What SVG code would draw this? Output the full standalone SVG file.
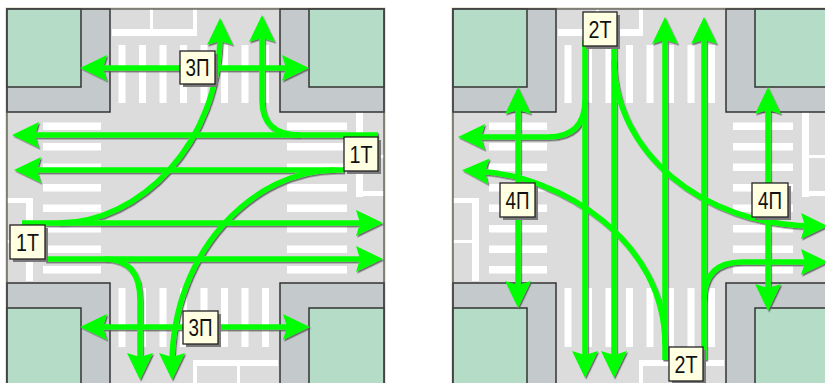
<svg xmlns="http://www.w3.org/2000/svg" xmlns:xlink="http://www.w3.org/1999/xlink" width="825" height="383" viewBox="0 0 825 383">
<style>
.road{fill:#dcdcdc}
.walk{fill:#c4cacb;stroke:#333;stroke-width:1.5}
.park{fill:#b4dcc6;stroke:#333;stroke-width:1.5}
.mk{fill:#fff}
.fr{fill:none;stroke:#4a4a4a;stroke-width:1.2}
.frb{fill:none;stroke:#d6cfb6;stroke-width:3}
.cn{fill:none;stroke:#00ff00;stroke-width:5.5;marker-end:url(#ah)}
.dbl{marker-start:url(#ah)}
.lb .s{fill:#7a7a7a}
.lb .b{fill:#ffffe1;stroke:#222;stroke-width:1.3}
.lb text{font-family:"Liberation Sans",Arial,sans-serif;font-size:24px;fill:#111;text-anchor:middle}
</style>
<defs>
<marker id="ah" markerUnits="userSpaceOnUse" markerWidth="40" markerHeight="40" viewBox="-20 -20 40 40" refX="0" refY="0" orient="auto-start-reverse" overflow="visible">
<path d="M15,0 L-12,-13 L-8,0 L-12,13 Z" fill="#00ff00"/>
</marker>
<filter id="sh" x="-5%" y="-5%" width="110%" height="110%">
<feDropShadow dx="1.2" dy="1.5" stdDeviation="0.4" flood-color="#555" flood-opacity="0.85"/>
</filter>
<g id="panel">
<rect class="frb" x="7" y="9" width="377" height="390"/>
<rect class="road" x="7" y="9" width="377" height="390"/>
<g class="mk">
<rect x="118.5" y="45" width="7" height="58"/><rect x="139" y="45" width="7" height="58"/><rect x="159.5" y="45" width="7" height="58"/><rect x="180" y="45" width="7" height="58"/><rect x="200.5" y="45" width="7" height="58"/><rect x="221" y="45" width="7" height="58"/><rect x="241.5" y="45" width="7" height="58"/><rect x="262" y="45" width="7" height="58"/>
<rect x="118.5" y="288" width="7" height="59"/><rect x="139" y="288" width="7" height="59"/><rect x="159.5" y="288" width="7" height="59"/><rect x="180" y="288" width="7" height="59"/><rect x="200.5" y="288" width="7" height="59"/><rect x="221" y="288" width="7" height="59"/><rect x="241.5" y="288" width="7" height="59"/><rect x="262" y="288" width="7" height="59"/>
<rect x="43" y="122.5" width="58" height="7.5"/><rect x="43" y="143" width="58" height="7.5"/><rect x="43" y="163.5" width="58" height="7.5"/><rect x="43" y="184" width="58" height="7.5"/><rect x="43" y="204.5" width="58" height="7.5"/><rect x="43" y="225" width="58" height="7.5"/><rect x="43" y="245.5" width="58" height="7.5"/><rect x="43" y="266" width="58" height="7.5"/>
<rect x="287" y="122.5" width="60" height="7.5"/><rect x="287" y="143" width="60" height="7.5"/><rect x="287" y="163.5" width="60" height="7.5"/><rect x="287" y="184" width="60" height="7.5"/><rect x="287" y="204.5" width="60" height="7.5"/><rect x="287" y="225" width="60" height="7.5"/><rect x="287" y="245.5" width="60" height="7.5"/><rect x="287" y="266" width="60" height="7.5"/>
<rect x="112" y="29" width="85" height="7"/><rect x="150" y="9" width="3" height="20"/><rect x="193" y="9" width="4" height="20"/>
<rect x="193" y="360" width="85" height="6"/><rect x="193" y="366" width="4" height="30"/><rect x="237" y="366" width="3" height="30"/>
<rect x="7" y="198" width="26" height="5"/><rect x="26" y="198" width="7" height="83"/><rect x="7" y="240" width="19" height="3"/>
<rect x="356" y="112" width="7" height="85"/><rect x="356" y="191" width="28" height="5"/><rect x="363" y="155" width="21" height="3"/>
</g>
<rect class="walk" x="7" y="9" width="103" height="103"/>
<rect class="park" x="7" y="9" width="74" height="78"/>
<rect class="walk" x="280" y="9" width="104" height="103"/>
<rect class="park" x="309" y="9" width="75" height="78"/>
<rect class="walk" x="7" y="283" width="103" height="110"/>
<rect class="park" x="7" y="308" width="74" height="85"/>
<rect class="walk" x="280" y="283" width="104" height="110"/>
<rect class="park" x="309" y="308" width="75" height="85"/>
<rect class="fr" x="7" y="9" width="377" height="390"/>
</g>
</defs>
<rect width="825" height="383" fill="#fff"/>
<use href="#panel" xlink:href="#panel"/>
<use href="#panel" xlink:href="#panel" x="446"/>
<g id="connectors" filter="url(#sh)">
<path class="cn" d="M378,135 H27"/>
<path class="cn" d="M344,170 H29"/>
<path class="cn" d="M300,135 Q262,135 262,100 V30"/>
<path class="cn" d="M335,170 C255,170 172,250 172,365"/>
<path class="cn" d="M22,223 H368"/>
<path class="cn" d="M45,259 H368"/>
<path class="cn" d="M105,259 Q140,259 140,300 V365"/>
<path class="cn" d="M59,223 C139,223 220,144 220,33"/>
<path class="cn dbl" d="M95,68 H294"/>
<path class="cn dbl" d="M95,327 H295"/>
<path class="cn" d="M585,40 V363"/>
<path class="cn" d="M614,40 V363"/>
<path class="cn" d="M585,100 Q585,137 548,137 H473"/>
<path class="cn" d="M614,60 C614,150 700,225 813,226"/>
<path class="cn" d="M665,345 C665,240 560,175 477,171"/>
<path class="cn" d="M665,360 V32"/>
<path class="cn" d="M704,360 V32"/>
<path class="cn" d="M704,300 Q704,262 742,262 H813"/>
<path class="cn dbl" d="M518,102 V293"/>
<path class="cn dbl" d="M768,102 V296"/>
</g>
<g id="lbl-3p-top" class="lb"><rect class="s" x="183" y="54" width="35" height="33"/><rect class="b" x="180" y="51" width="35" height="33"/><text x="197.5" y="76" textLength="24" lengthAdjust="spacingAndGlyphs">3П</text></g>
<g id="lbl-3p-bottom" class="lb"><rect class="s" x="186" y="314" width="35" height="33"/><rect class="b" x="183" y="311" width="35" height="33"/><text x="200.5" y="336" textLength="24" lengthAdjust="spacingAndGlyphs">3П</text></g>
<g id="lbl-1t-left" class="lb"><rect class="s" x="13" y="228" width="35" height="34"/><rect class="b" x="10" y="225" width="35" height="34"/><text x="27.5" y="250.5" textLength="23" lengthAdjust="spacingAndGlyphs">1Т</text></g>
<g id="lbl-1t-right" class="lb"><rect class="s" x="347" y="140" width="34" height="34"/><rect class="b" x="344" y="137" width="34" height="34"/><text x="361" y="162.5" textLength="23" lengthAdjust="spacingAndGlyphs">1Т</text></g>
<g id="lbl-2t-top" class="lb"><rect class="s" x="586" y="15" width="34" height="34"/><rect class="b" x="583" y="12" width="34" height="34"/><text x="600" y="37.5" textLength="23" lengthAdjust="spacingAndGlyphs">2Т</text></g>
<g id="lbl-2t-bottom" class="lb"><rect class="s" x="672" y="350" width="34" height="34"/><rect class="b" x="669" y="347" width="34" height="34"/><text x="686" y="372.5" textLength="23" lengthAdjust="spacingAndGlyphs">2Т</text></g>
<g id="lbl-4p-left" class="lb"><rect class="s" x="503" y="186" width="35" height="34"/><rect class="b" x="500" y="183" width="35" height="34"/><text x="517.5" y="208.5" textLength="24" lengthAdjust="spacingAndGlyphs">4П</text></g>
<g id="lbl-4p-right" class="lb"><rect class="s" x="755" y="186" width="36" height="34"/><rect class="b" x="752" y="183" width="36" height="34"/><text x="770" y="208.5" textLength="24" lengthAdjust="spacingAndGlyphs">4П</text></g>
</svg>
